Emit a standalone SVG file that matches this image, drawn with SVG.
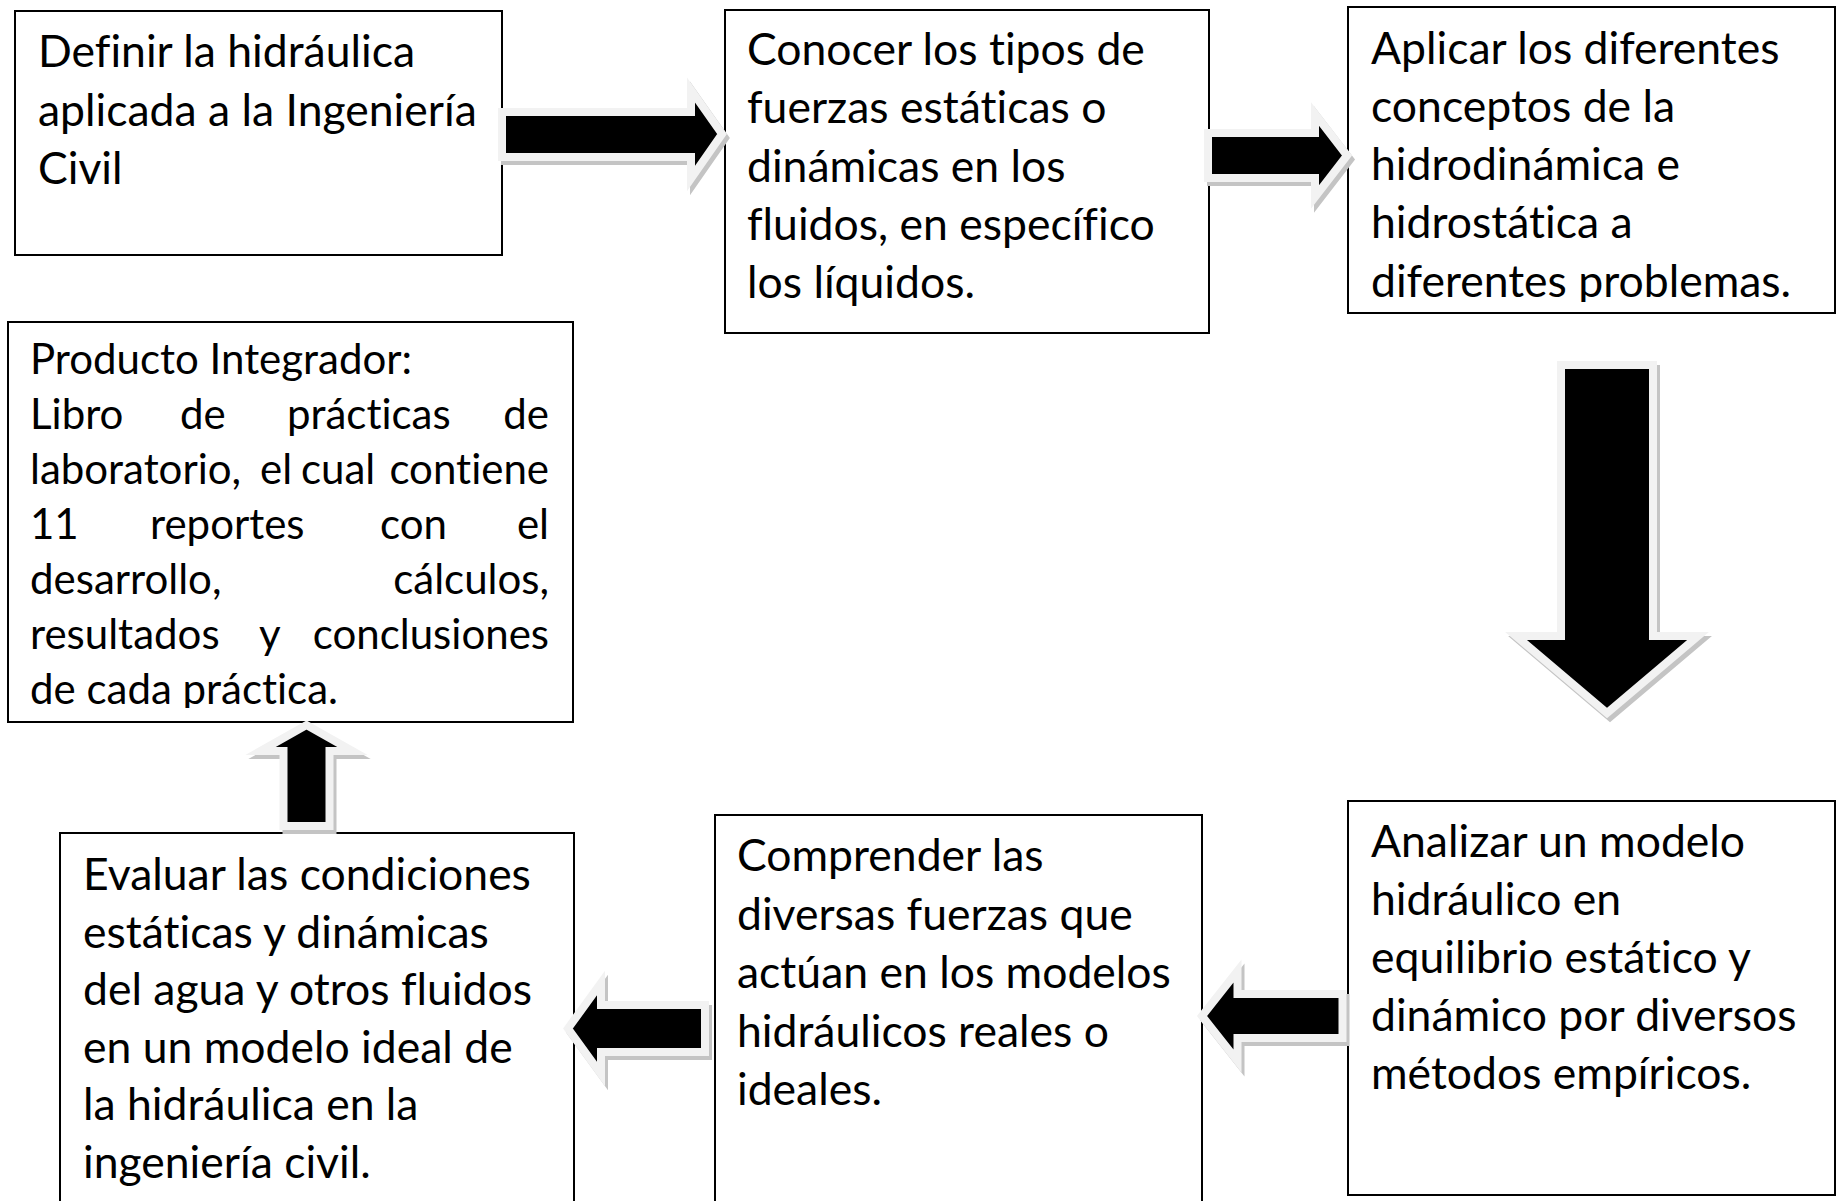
<svg xmlns="http://www.w3.org/2000/svg" width="1841" height="1201" viewBox="0 0 1841 1201">
<style>
.box{fill:#fff;stroke:#000;stroke-width:2}
.t{font-family:Lato,"Liberation Sans",sans-serif;font-size:44.5px;fill:#000;font-variant-ligatures:none;font-feature-settings:"liga" 0,"clig" 0}
.s{font-size:42px}
.ar{fill:#000;stroke:#f2f2f2;stroke-width:8;stroke-linejoin:miter;stroke-miterlimit:10}
.sh{fill:#c4c4c4;stroke:#c4c4c4;stroke-width:8;stroke-linejoin:miter;stroke-miterlimit:10}
</style>
<defs>
<clipPath id="c3"><rect x="1348" y="0" width="490" height="302"/></clipPath>
<clipPath id="c4"><rect x="0" y="321" width="580" height="387"/></clipPath>
</defs>
<rect width="1841" height="1201" fill="#fff"/>
<g id="n1">
<rect class="box" x="15" y="11" width="487" height="244"/>
<text class="t"><tspan x="38" y="67">Definir la hidráulica</tspan><tspan x="38" y="125.5">aplicada a la Ingeniería</tspan><tspan x="38" y="184">Civil</tspan></text>
</g>
<g id="n2">
<rect class="box" x="725" y="10" width="484" height="323"/>
<text class="t"><tspan x="747" y="65">Conocer los tipos de</tspan><tspan x="747" y="123">fuerzas estáticas o</tspan><tspan x="747" y="181.5">dinámicas en los</tspan><tspan x="747" y="240">fluidos, en específico</tspan><tspan x="747" y="298">los líquidos.</tspan></text>
</g>
<g id="n3">
<rect class="box" x="1348" y="7" width="487" height="306"/>
<text class="t" clip-path="url(#c3)"><tspan x="1371" y="63.5">Aplicar los diferentes</tspan><tspan x="1371" y="121.5">conceptos de la</tspan><tspan x="1371" y="180">hidrodinámica e</tspan><tspan x="1371" y="238">hidrostática a</tspan><tspan x="1371" y="296.5">diferentes problemas.</tspan></text>
</g>
<g id="n4">
<rect class="box" x="8" y="322" width="565" height="400"/>
<g class="t s" clip-path="url(#c4)">
<text x="30" y="374">Producto Integrador:</text>
<text x="30" y="429">Libro</text><text x="180" y="429">de</text><text x="287" y="429">prácticas</text><text x="549" y="429" text-anchor="end">de</text>
<text x="30" y="484">laboratorio,</text><text x="260" y="484">el</text><text x="301" y="484">cual</text><text x="549" y="484" text-anchor="end">contiene</text>
<text x="30" y="539">11</text><text x="150" y="539">reportes</text><text x="380" y="539">con</text><text x="549" y="539" text-anchor="end">el</text>
<text x="30" y="594">desarrollo,</text><text x="549" y="594" text-anchor="end">cálculos,</text>
<text x="30" y="649">resultados</text><text x="259" y="649">y</text><text x="549" y="649" text-anchor="end">conclusiones</text>
<text x="30" y="704">de cada práctica.</text>
</g>
</g>
<g id="n5">
<rect class="box" x="60" y="833" width="514" height="420"/>
<text class="t"><tspan x="83" y="890">Evaluar las condiciones</tspan><tspan x="83" y="947.5">estáticas y dinámicas</tspan><tspan x="83" y="1005">del agua y otros fluidos</tspan><tspan x="83" y="1062.5">en un modelo ideal de</tspan><tspan x="83" y="1120">la hidráulica en la</tspan><tspan x="83" y="1177.5">ingeniería civil.</tspan></text>
</g>
<g id="n6">
<rect class="box" x="715" y="815" width="487" height="440"/>
<text class="t"><tspan x="737" y="871">Comprender las</tspan><tspan x="737" y="929.5">diversas fuerzas que</tspan><tspan x="737" y="988">actúan en los modelos</tspan><tspan x="737" y="1046.5">hidráulicos reales o</tspan><tspan x="737" y="1105">ideales.</tspan></text>
</g>
<g id="n7">
<rect class="box" x="1348" y="801" width="487" height="394"/>
<text class="t"><tspan x="1371" y="857">Analizar un modelo</tspan><tspan x="1371" y="915">hidráulico en</tspan><tspan x="1371" y="973">equilibrio estático y</tspan><tspan x="1371" y="1030.5">dinámico por diversos</tspan><tspan x="1371" y="1088.5">métodos empíricos.</tspan></text>
</g>
<g id="connectors">
<defs>
<path id="a1" d="M502,112 H691 V90 L722,134 L691,178.5 V157 H502 Z"/>
<path id="a2" d="M1208,133 H1315 V114 L1347,155.5 L1315,197 V178 H1208 Z"/>
<path id="a3" d="M1561,365 H1653 V636 H1698 L1607,713 L1516,636 H1561 Z"/>
<path id="a4" d="M283.5,826 V751 H260.5 L306.5,725 L352.5,751 H329.5 V826 Z"/>
<path id="a5" d="M705,1005 H601 V983 L568,1028.5 L601,1074 V1052 H705 Z"/>
<path id="a6" d="M1342.5,994 H1237.5 V971 L1202,1016 L1237.5,1061 V1038 H1342.5 Z"/>
</defs>
<g transform="translate(3,4)">
<use href="#a1" class="sh"/><use href="#a2" class="sh"/><use href="#a3" class="sh"/><use href="#a4" class="sh"/><use href="#a5" class="sh"/><use href="#a6" class="sh"/>
</g>
<use href="#a1" class="ar"/><use href="#a2" class="ar"/><use href="#a3" class="ar"/><use href="#a4" class="ar"/><use href="#a5" class="ar"/><use href="#a6" class="ar"/>
</g>
</svg>
